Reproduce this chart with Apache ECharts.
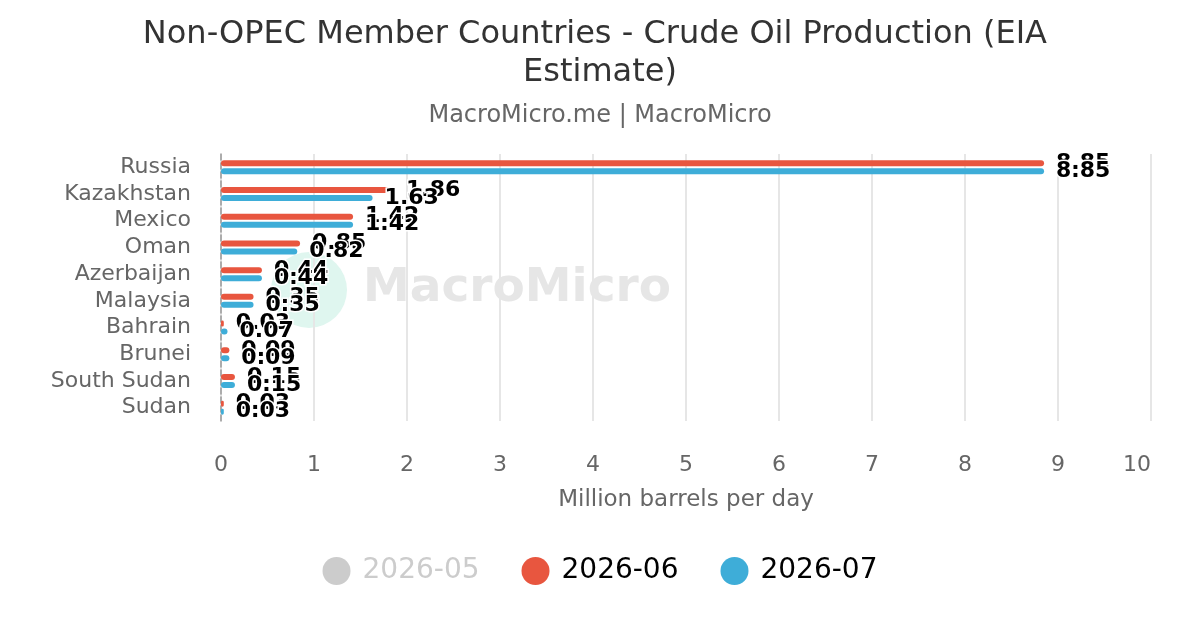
<!DOCTYPE html>
<html>
<head>
<meta charset="utf-8">
<script src="https://cdn.jsdelivr.net/npm/echarts@6/dist/echarts.min.js"></script>
<style>
  html, body { margin: 0; padding: 0; background: #fff; }
  #chart { width: 1200px; height: 630px; }
</style>
</head>
<body>
<div id="chart"></div>
<script>
var countries = ["Russia", "Kazakhstan", "Mexico", "Oman", "Azerbaijan", "Malaysia", "Bahrain", "Brunei", "South Sudan", "Sudan"];
var may2026 = [8.83, 1.84, 1.43, 0.84, 0.44, 0.35, 0.04, 0.09, 0.15, 0.03];
var jun2026 = [8.85, 1.86, 1.42, 0.85, 0.44, 0.35, 0.03, 0.09, 0.15, 0.03];
var jul2026 = [8.85, 1.63, 1.42, 0.82, 0.44, 0.35, 0.07, 0.09, 0.15, 0.03];
var seriesNames = ["2026-05", "2026-06", "2026-07"];
var seriesColors = ["#cccccc", "#e8563f", "#3eadd8"];

var font = "DejaVu Sans";
var chart = echarts.init(document.getElementById("chart"));

function barSeries(name, data, color) {
  return {
    name: name,
    type: "bar",
    data: data,
    barWidth: 6,
    barGap: "33%",
    z: 3,
    itemStyle: { color: color, borderRadius: 3 },
    label: {
      show: true,
      position: "right",
      distance: 12,
      color: "#000",
      fontFamily: font,
      fontWeight: "bold",
      fontSize: 22,
      textBorderColor: "#fff",
      textBorderWidth: 3,
      formatter: function (p) { return p.value.toFixed(2); }
    }
  };
}

var option = {
  backgroundColor: "#ffffff",
  animation: false,
  title: {
    text: "Non-OPEC Member Countries - Crude Oil Production (EIA Estimate)",
    subtext: "MacroMicro.me | MacroMicro",
    left: "center",
    top: 11,
    itemGap: 12,
    textStyle: {
      fontFamily: font,
      fontWeight: "normal",
      fontSize: 32,
      color: "#333333",
      lineHeight: 38,
      width: 1000,
      overflow: "break"
    },
    subtextStyle: {
      fontFamily: font,
      fontSize: 24,
      color: "#666666"
    }
  },
  legend: {
    bottom: 40,
    left: "center",
    icon: "circle",
    itemWidth: 28,
    itemHeight: 28,
    itemGap: 42,
    inactiveColor: "#cccccc",
    textStyle: { fontFamily: font, fontSize: 28, color: "#000", padding: [0, 0, 0, 7] },
    data: seriesNames,
    selected: { "2026-05": false, "2026-06": true, "2026-07": true }
  },
  graphic: [
    {
      type: "circle",
      z: 0,
      silent: true,
      shape: { cx: 309, cy: 290, r: 38 },
      style: { fill: "#dff6ef" }
    },
    {
      type: "text",
      z: 0,
      silent: true,
      x: 363,
      y: 265,
      style: {
        text: "MacroMicro",
        fill: "#e6e6e6",
        fontFamily: font,
        fontWeight: "bold",
        fontSize: 47
      }
    }
  ],
  grid: {
    left: 221,
    right: 49,
    top: 154,
    bottom: 209
  },
  xAxis: {
    type: "value",
    min: 0,
    max: 10,
    interval: 1,
    name: "Million barrels per day",
    nameLocation: "middle",
    nameGap: 68,
    nameTextStyle: { fontFamily: font, fontSize: 23, color: "#666666" },
    axisLine: { show: false },
    axisTick: { show: false },
    splitLine: { lineStyle: { color: "#e6e6e6", width: 2 } },
    axisLabel: {
      margin: 33,
      fontFamily: font,
      fontSize: 22,
      color: "#666666",
      alignMaxLabel: "right"
    }
  },
  yAxis: {
    type: "category",
    inverse: true,
    data: countries,
    axisTick: { show: false },
    axisLine: { lineStyle: { color: "#999999", type: "dashed", width: 1.5 } },
    axisLabel: {
      interval: 0,
      margin: 30,
      fontFamily: font,
      fontSize: 22,
      lineHeight: 24,
      color: "#666666"
    }
  },
  series: [
    barSeries(seriesNames[0], may2026, seriesColors[0]),
    barSeries(seriesNames[1], jun2026, seriesColors[1]),
    barSeries(seriesNames[2], jul2026, seriesColors[2])
  ]
};

chart.setOption(option);
</script>
</body>
</html>
